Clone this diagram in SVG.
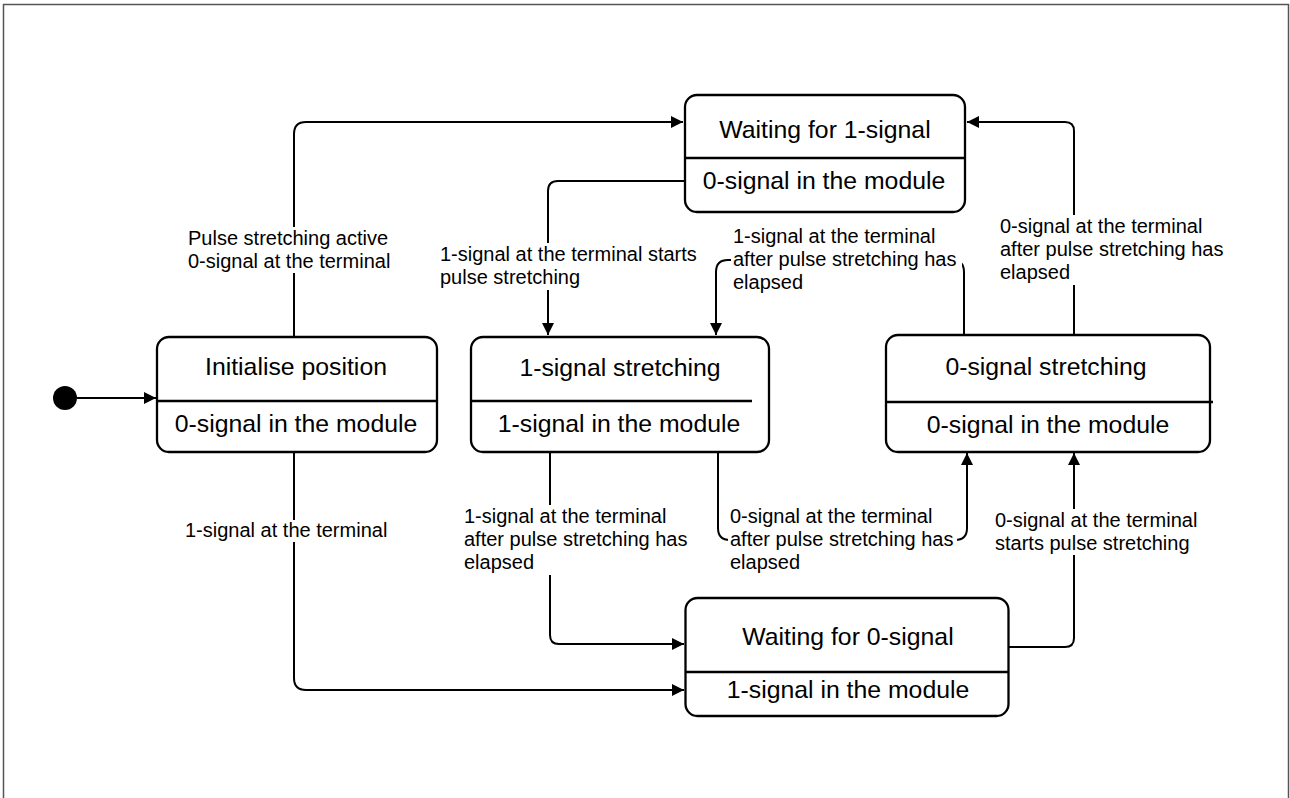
<svg xmlns="http://www.w3.org/2000/svg" width="1290" height="798" viewBox="0 0 1290 798">
<style>
  .frame { fill: none; stroke: #555; stroke-width: 1.5; }
  .box { fill: #fff; stroke: #000; stroke-width: 2.3; }
  .div { stroke: #000; stroke-width: 2.3; fill: none; }
  .node { font-family: "Liberation Sans", Arial, sans-serif; font-size: 24.8px; fill: #000; text-anchor: middle; }
  .lbl { font-family: "Liberation Sans", Arial, sans-serif; font-size: 20px; fill: #000; }
  .conn { fill: none; stroke: #000; stroke-width: 2; }
  .bg { fill: #fff; stroke: none; }
</style>
<defs>
  <marker id="arr" markerUnits="userSpaceOnUse" markerWidth="13" markerHeight="13" viewBox="0 0 13 13" refX="12" refY="6.5" orient="auto">
    <path d="M0,0.5 L12,6.5 L0,12.5 z" fill="#000"/>
  </marker>
</defs>
<rect class="frame" x="3.5" y="4.5" width="1285" height="900"/>

<g id="connectors">
  <circle id="start" cx="65" cy="398" r="12" fill="#000"/>
  <path class="conn" d="M77,398 H156" marker-end="url(#arr)"/>
  <!-- A: Initialise -> Waiting 1 -->
  <path class="conn" d="M294,337 V134 Q294,122 306,122 H683" marker-end="url(#arr)"/>
  <!-- B: Waiting 1 -> 1-signal stretching -->
  <path class="conn" d="M685,181 H558 Q548,181 548,191 V335" marker-end="url(#arr)"/>
  <!-- C: 0-signal stretching -> 1-signal stretching -->
  <path class="conn" d="M964,335 V272 Q964,260 952,260 H728 Q716,260 716,272 V335" marker-end="url(#arr)"/>
  <!-- D: 0-signal stretching -> Waiting 1 -->
  <path class="conn" d="M1074,335 V131 Q1074,122 1065,122 H967" marker-end="url(#arr)"/>
  <!-- E: Initialise -> Waiting 0 -->
  <path class="conn" d="M294,452 V678 Q294,690 306,690 H684" marker-end="url(#arr)"/>
  <!-- F: 1-signal stretching -> Waiting 0 -->
  <path class="conn" d="M550,452 V635 Q550,644 559,644 H684" marker-end="url(#arr)"/>
  <!-- G: 1-signal stretching -> 0-signal stretching -->
  <path class="conn" d="M718,453 V528 Q718,540 730,540 H955 Q967,540 967,528 V453" marker-end="url(#arr)"/>
  <!-- H: Waiting 0 -> 0-signal stretching -->
  <path class="conn" d="M1008,647 H1065 Q1074,647 1074,638 V453" marker-end="url(#arr)"/>

  <g id="labels">
    <rect class="bg" x="186" y="227" width="204" height="46"/>
    <text class="lbl" x="188" y="245">Pulse stretching active</text>
    <text class="lbl" x="188" y="268">0-signal at the terminal</text>

    <rect class="bg" x="438" y="243" width="258" height="47"/>
    <text class="lbl" x="440" y="261">1-signal at the terminal starts</text>
    <text class="lbl" x="440" y="284">pulse stretching</text>

    <rect class="bg" x="731" y="225" width="231" height="70"/>
    <text class="lbl" x="733" y="243">1-signal at the terminal</text>
    <text class="lbl" x="733" y="266">after pulse stretching has</text>
    <text class="lbl" x="733" y="289">elapsed</text>

    <rect class="bg" x="998" y="215" width="226" height="70"/>
    <text class="lbl" x="1000" y="233">0-signal at the terminal</text>
    <text class="lbl" x="1000" y="256">after pulse stretching has</text>
    <text class="lbl" x="1000" y="279">elapsed</text>

    <rect class="bg" x="183" y="520" width="206" height="22"/>
    <text class="lbl" x="185" y="537">1-signal at the terminal</text>

    <rect class="bg" x="462" y="505" width="226" height="70"/>
    <text class="lbl" x="464" y="523">1-signal at the terminal</text>
    <text class="lbl" x="464" y="546">after pulse stretching has</text>
    <text class="lbl" x="464" y="569">elapsed</text>

    <rect class="bg" x="728" y="505" width="229" height="70"/>
    <text class="lbl" x="730" y="523">0-signal at the terminal</text>
    <text class="lbl" x="730" y="546">after pulse stretching has</text>
    <text class="lbl" x="730" y="569">elapsed</text>

    <rect class="bg" x="993" y="509" width="206" height="46"/>
    <text class="lbl" x="995" y="527">0-signal at the terminal</text>
    <text class="lbl" x="995" y="550">starts pulse stretching</text>
  </g>
</g>

<g id="initialise">
  <rect class="box" x="157" y="337" width="280" height="115" rx="12"/>
  <line class="div" x1="157" y1="401" x2="437" y2="401"/>
  <text class="node" x="296" y="375">Initialise position</text>
  <text class="node" x="296" y="432">0-signal in the module</text>
</g>

<g id="stretch1">
  <rect class="box" x="471" y="337" width="298" height="115" rx="12"/>
  <line class="div" x1="471" y1="401" x2="752" y2="401"/>
  <text class="node" x="620" y="376">1-signal stretching</text>
  <text class="node" x="619" y="432">1-signal in the module</text>
</g>

<g id="wait1">
  <rect class="box" x="685" y="95" width="280" height="117" rx="12"/>
  <line class="div" x1="685" y1="158" x2="965" y2="158"/>
  <text class="node" x="825" y="138">Waiting for 1-signal</text>
  <text class="node" x="824" y="189">0-signal in the module</text>
</g>

<g id="stretch0">
  <rect class="box" x="886" y="335" width="324" height="117" rx="12"/>
  <line class="div" x1="886" y1="402" x2="1213" y2="402"/>
  <text class="node" x="1046" y="375">0-signal stretching</text>
  <text class="node" x="1048" y="433">0-signal in the module</text>
</g>

<g id="wait0">
  <rect class="box" x="685.5" y="598" width="323" height="118" rx="12"/>
  <line class="div" x1="685.5" y1="672" x2="1008.5" y2="672"/>
  <text class="node" x="848" y="645">Waiting for 0-signal</text>
  <text class="node" x="848" y="698">1-signal in the module</text>
</g>
</svg>
